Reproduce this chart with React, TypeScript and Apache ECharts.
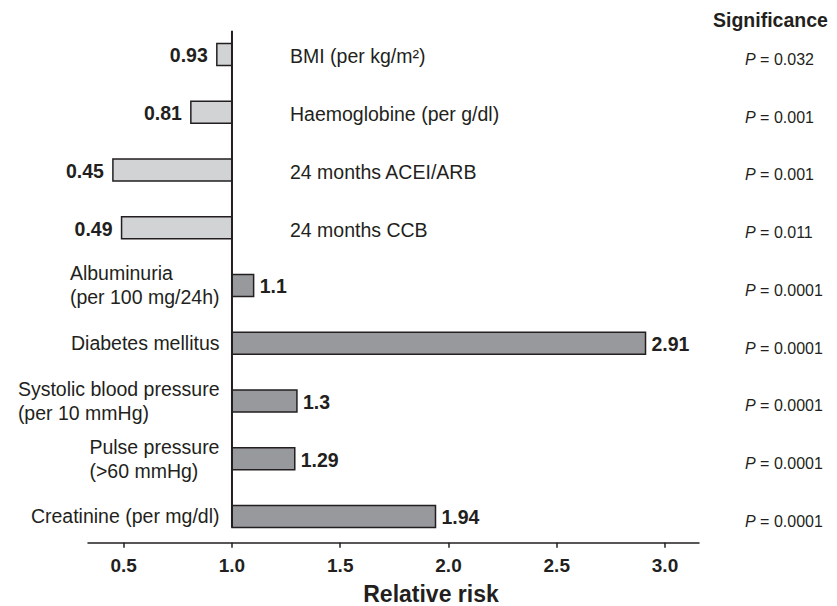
import React, { useEffect, useRef } from "react";
import * as echarts from "echarts";

const categories = [
  "BMI (per kg/m²)",
  "Haemoglobine (per g/dl)",
  "24 months ACEI/ARB",
  "24 months CCB",
  "Albuminuria\n(per 100 mg/24h)",
  "Diabetes mellitus",
  "Systolic blood pressure\n(per 10 mmHg)",
  "Pulse pressure\n(>60 mmHg)",
  "Creatinine (per mg/dl)",
];
const relativeRisk = [0.93, 0.81, 0.45, 0.49, 1.1, 2.91, 1.3, 1.29, 1.94];
const pValues = ["0.032", "0.001", "0.001", "0.011", "0.0001", "0.0001", "0.0001", "0.0001", "0.0001"];
const tickValues = [0.5, 1.0, 1.5, 2.0, 2.5, 3.0];
const referenceValue = 1;

const FONT = "'Liberation Sans', Arial, Helvetica, sans-serif";
const INK = "#231f20";
const LIGHT = "#d2d3d5";
const DARK = "#98999d";

export default function App() {
  const ref = useRef<HTMLDivElement>(null);

  useEffect(() => {
    const el = ref.current;
    if (!el) return;
    const chart = echarts.init(el, null, { renderer: "svg" });

    const canvas = document.createElement("canvas");
    const ctx = canvas.getContext("2d")!;
    ctx.font = `19.5px ${FONT}`;
    const blockWidth = (s: string) =>
      Math.max(...s.split("\n").map((l) => ctx.measureText(l).width));

    const barFrac = 0.381;

    const renderItem = (params: any, api: any) => {
      const v = api.value(0) as number;
      const i = api.value(1) as number;
      const base = api.coord([referenceValue, i]);
      const end = api.coord([v, i]);
      const yc = base[1];
      const h = api.size([0, 1])[1] * barFrac;
      const x0 = Math.min(base[0], end[0]);
      const x1 = Math.max(base[0], end[0]);
      const below = v < referenceValue;
      const cat = categories[i];
      const children: any[] = [
        {
          type: "rect",
          shape: { x: x0, y: yc - h / 2, width: x1 - x0, height: h },
          style: { fill: below ? LIGHT : DARK, stroke: INK, lineWidth: 1.5 },
        },
        {
          type: "text",
          style: {
            text: String(v),
            x: below ? x0 - 9 : x1 + 6,
            y: yc + 1,
            align: below ? "right" : "left",
            verticalAlign: "middle",
            font: `bold 19.5px ${FONT}`,
            fill: INK,
          },
        },
        {
          type: "text",
          style: below
            ? {
                text: cat,
                x: base[0] + 58,
                y: yc + 2,
                align: "left",
                verticalAlign: "middle",
                font: `19.5px ${FONT}`,
                fill: INK,
              }
            : {
                text: cat,
                x: base[0] - 12.5 - blockWidth(cat),
                y: yc,
                align: "left",
                verticalAlign: "middle",
                font: `19.5px ${FONT}`,
                lineHeight: 24,
                fill: INK,
              },
        },
        {
          type: "text",
          style: {
            text: `{i|P} = ${pValues[i]}`,
            x: 745,
            y: yc + 5,
            align: "left",
            verticalAlign: "middle",
            font: `16px ${FONT}`,
            fill: INK,
            rich: {
              i: { fontStyle: "italic", fontSize: 16, fontFamily: FONT, fill: INK },
            },
          },
        },
      ];
      return { type: "group", children };
    };

    chart.setOption({
      animation: false,
      backgroundColor: "#ffffff",
      grid: { left: 88, right: 138, top: 25.6, bottom: 63.3, containLabel: false },
      xAxis: {
        type: "value",
        position: "bottom",
        min: 0.335,
        max: 3.157,
        axisLine: { show: true, onZero: false, lineStyle: { color: INK, width: 1.5 } },
        axisTick: {
          show: true,
          customValues: tickValues,
          length: 5,
          lineStyle: { color: INK, width: 1.5 },
        },
        axisLabel: {
          customValues: tickValues,
          formatter: (v: number) => v.toFixed(1),
          color: INK,
          fontWeight: "bold",
          fontSize: 19,
          fontFamily: FONT,
          margin: 13,
        },
        splitLine: { show: false },
      },
      yAxis: {
        type: "value",
        inverse: true,
        min: -0.5,
        max: 8.454,
        show: false,
      },
      series: [
        {
          type: "custom",
          renderItem,
          clip: false,
          encode: { x: 0, y: 1 },
          data: relativeRisk.map((v, i) => [v, i]),
          z: 2,
        },
        {
          type: "line",
          data: [
            [referenceValue, -0.41],
            [referenceValue, categories.length - 1 + barFrac / 2],
          ],
          symbol: "none",
          lineStyle: { color: INK, width: 2 },
          z: 3,
        },
      ],
      graphic: [
        {
          type: "text",
          left: 713,
          top: 10,
          style: { text: "Significance", font: `bold 19.5px ${FONT}`, fill: INK },
        },
        {
          type: "text",
          x: 431,
          y: 594,
          style: {
            text: "Relative risk",
            font: `bold 23px ${FONT}`,
            fill: INK,
            align: "center",
            verticalAlign: "middle",
          },
        },
      ],
    });

    return () => chart.dispose();
  }, []);

  return (
    <div
      ref={ref}
      style={{ position: "fixed", left: 0, top: 0, width: 837, height: 606 }}
    />
  );
}
